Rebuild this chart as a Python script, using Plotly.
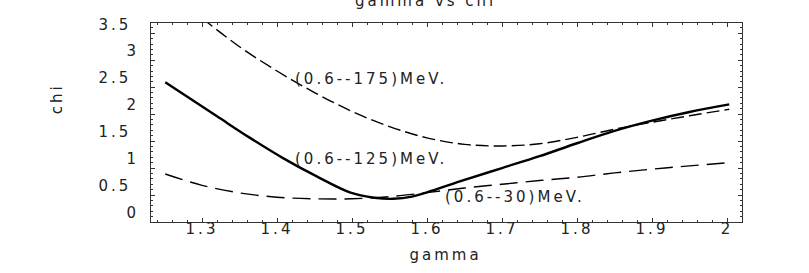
import plotly.graph_objects as go

# ---- data ----
gamma_125 = [1.251, 1.320, 1.364, 1.408, 1.453, 1.497, 1.530, 1.555, 1.580, 1.600, 1.650, 1.700, 1.750, 1.800, 1.850, 1.900, 1.950, 2.003]
chi_125   = [2.59, 1.96, 1.56, 1.185, 0.845, 0.55, 0.45, 0.43, 0.47, 0.55, 0.78, 1.00, 1.22, 1.46, 1.69, 1.88, 2.04, 2.18]

gamma_175 = [1.300, 1.350, 1.400, 1.450, 1.500, 1.550, 1.600, 1.650, 1.700, 1.750, 1.800, 1.850, 1.900, 1.950, 2.003]
chi_175   = [3.78, 3.25, 2.80, 2.40, 2.05, 1.77, 1.56, 1.44, 1.41, 1.45, 1.57, 1.72, 1.85, 1.97, 2.09]

gamma_30 = [1.251, 1.300, 1.350, 1.400, 1.450, 1.500, 1.550, 1.600, 1.650, 1.700, 1.750, 1.800, 1.850, 1.900, 1.950, 2.003]
chi_30   = [0.89, 0.68, 0.54, 0.46, 0.43, 0.43, 0.47, 0.545, 0.63, 0.70, 0.77, 0.83, 0.91, 0.98, 1.04, 1.10]

x_ticks = [1.3, 1.4, 1.5, 1.6, 1.7, 1.8, 1.9, 2.0]
x_ticktext = ["1.3", "1.4", "1.5", "1.6", "1.7", "1.8", "1.9", "2"]
y_ticks = [0, 0.5, 1, 1.5, 2, 2.5, 3, 3.5]
y_ticktext = ["0", "0.5\u00a0", "1", "1.5\u00a0", "2", "2.5\u00a0", "3", "3.5\u00a0"]

labels = ["(0.6--175)MeV.", "(0.6--125)MeV.", "(0.6--30)MeV."]
label_x = [1.4213, 1.4213, 1.6213]
label_y = [2.65, 1.17, 0.47]

FONT = "DejaVu Sans"
INK = "#222222"

fig = go.Figure()
fig.add_trace(go.Scatter(x=gamma_175, y=chi_175, mode="lines", line=dict(color="black", width=1.4, dash="13px,5px"), line_shape="spline", showlegend=False))
fig.add_trace(go.Scatter(x=gamma_125, y=chi_125, mode="lines", line=dict(color="black", width=2.4), line_shape="spline", showlegend=False))
fig.add_trace(go.Scatter(x=gamma_30, y=chi_30, mode="lines", line=dict(color="black", width=1.4, dash="18px,8px"), line_shape="spline", showlegend=False))

for t, x, y in zip(labels, label_x, label_y):
    fig.add_annotation(x=x, y=y, xref="x", yref="y", text=t, showarrow=False,
                       xanchor="left", yanchor="middle", align="left",
                       font=dict(family=FONT, size=15, color=INK))

fig.add_annotation(x=0.465, y=1.11, xref="paper", yref="paper", text="gamma vs chi", showarrow=False,
                   xanchor="center", yanchor="middle", font=dict(family=FONT, size=15, color=INK))
fig.add_annotation(x=-0.159, y=0.62, xref="paper", yref="paper", text="chi", showarrow=False, textangle=-90,
                   xanchor="center", yanchor="middle", font=dict(family=FONT, size=15, color=INK))
fig.add_annotation(x=0.499, y=-0.166, xref="paper", yref="paper", text="gamma", showarrow=False,
                   xanchor="center", yanchor="middle", font=dict(family=FONT, size=15, color=INK))

axis_common = dict(showline=True, linecolor="#333333", linewidth=1, mirror="ticks", ticks="inside",
                   tickcolor="#333333", ticklen=4, showgrid=False, zeroline=False,
                   tickfont=dict(family=FONT, size=15, color=INK))
fig.update_xaxes(range=[1.232, 2.02], tickvals=x_ticks, ticktext=x_ticktext, ticklabelstandoff=-7,
                 minor=dict(dtick=0.02, ticks="inside", ticklen=2, tickcolor="#333333", showgrid=False),
                 **axis_common)
fig.update_yaxes(range=[0, 3.69], tickvals=y_ticks, ticktext=y_ticktext, ticklabelstandoff=8, ticklabelshift=-9,
                 minor=dict(dtick=0.1, ticks="inside", ticklen=2, tickcolor="#333333", showgrid=False),
                 **axis_common)

fig.update_layout(width=809, height=273, margin=dict(l=151, r=67, t=23, b=51),
                  paper_bgcolor="white", plot_bgcolor="white", showlegend=False)

fig.write_html("out.html", config={"displayModeBar": False}, post_script=(
    "document.body.style.margin='0';"
    "document.querySelectorAll('.main-svg text').forEach(function(t){t.style.letterSpacing='3px';});"))
